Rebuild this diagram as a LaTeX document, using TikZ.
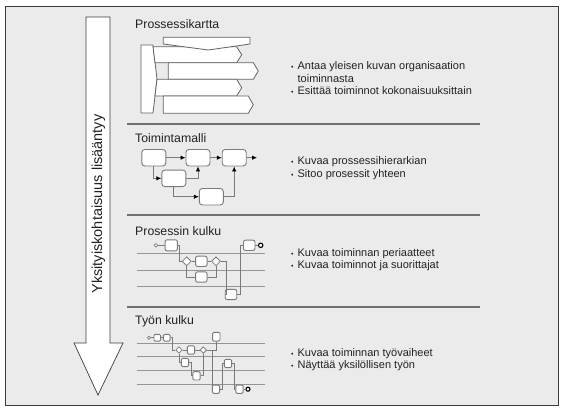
\documentclass[tikz,border=0pt]{standalone}
\usepackage{fontspec}
\setmainfont{Liberation Sans}
\usetikzlibrary{arrows.meta,shapes.geometric}
\definecolor{panel-gray}{HTML}{EBEBEB}
\definecolor{frame-gray}{HTML}{3C3C3C}
\definecolor{rule-gray}{HTML}{707070}
\definecolor{flow-gray}{HTML}{7A7A7A}
\definecolor{text-gray}{HTML}{222222}
\tikzset{
    step-box/.style = {draw=flow-gray, fill=white, line width=0.9pt, rectangle, rounded corners=2pt, inner sep=0pt},
    big-step/.style = {step-box, minimum width=24pt, minimum height=16.5pt, rounded corners=3pt},
    mid-step/.style = {step-box, minimum width=11.5pt, minimum height=10.3pt},
    small-step/.style = {step-box, minimum width=7.3pt, minimum height=8.3pt, rounded corners=1.2pt},
    gate-diamond/.style = {draw=flow-gray, fill=white, line width=0.8pt, diamond, inner sep=0pt, minimum size=9pt},
    start-dot/.style = {draw=flow-gray, fill=white, line width=0.7pt, circle, inner sep=0pt, minimum size=3.6pt},
    end-dot/.style = {draw=black, fill=white, line width=1.1pt, circle, inner sep=0pt, minimum size=4.4pt},
    flow-line/.style = {draw=flow-gray, line width=0.8pt},
    flow-arrow/.style = {flow-line, -{Latex[length=5pt,width=4.5pt,black]}},
    lane-line/.style = {draw=flow-gray!80, line width=0.6pt},
    map-arrow/.style = {draw=frame-gray!80, fill=white, line width=0.8pt, line join=round},
    section-title/.style = {anchor=base west, inner sep=0pt, text=text-gray, font=\fontsize{12.3}{14}\selectfont},
    section-text/.style = {anchor=west, inner sep=0pt, text=text-gray, font=\fontsize{11}{12.8}\selectfont},
}
\newcommand{\dotitem}{{\scriptsize\textbullet}}

\begin{document}
\begin{tikzpicture}[x=1pt, y=-1pt]
\useasboundingbox (0,0) rectangle (568,413);
\fill[white] (0,0) rectangle (568,413);
\draw[draw=frame-gray, fill=panel-gray, line width=0.9pt] (5,6) rectangle (558,405);

% the big arrow on the left
\draw[draw=frame-gray, fill=white, line width=0.7pt, line join=miter]
    (86,17) -- (110,17) -- (110,343) -- (123,343) -- (98,395) -- (74,343) -- (86,343) -- cycle;
\node[rotate=90, inner sep=0pt, text=text-gray, font=\fontsize{14.5}{16}\selectfont] (detail-label) at (98.5,204) {Yksityiskohtaisuus lisääntyy};

% separators
\foreach \y in {124,215,307}
    \draw[rule-gray, line width=1.3pt] (127,\y) -- (480,\y);

% section 1: prosessikartta
\node[section-title] (map-title) at (135,28.3) {Prossessikartta};
\draw[map-arrow] (141,45) -- (153,45) -- (157,79) -- (153,113) -- (141,113) -- cycle;
\draw[map-arrow] (153,46.7) -- (236.7,46.7) -- (241.7,54.7) -- (236.7,62.7) -- (155,62.7) -- cycle;
\draw[map-arrow] (168.3,62.7) -- (253.3,62.7) -- (258.3,71) -- (253.3,79.3) -- (168.3,79.3) -- cycle;
\draw[map-arrow] (157,79.3) -- (236.7,79.3) -- (241.7,87.7) -- (236.7,96) -- (155,96) -- cycle;
\draw[map-arrow] (163.3,96) -- (248.3,96) -- (253.3,104.7) -- (248.3,113.3) -- (163.3,113.3) -- cycle;
\draw[map-arrow] (163.3,37.3) -- (250,37.3) -- (250,44) -- (208.3,50) -- (163.3,44) -- cycle;
\node[section-text] (map-text) at (291,79.5) {\begin{tabular}{@{}l@{\hspace{4pt}}l@{}}
    \dotitem & Antaa yleisen kuvan organisaation\\
    & toiminnasta\\
    \dotitem & Esittää toiminnot kokonaisuuksittain
\end{tabular}};

% section 2: toimintamalli
\node[section-title] (model-title) at (135,142.7) {Toimintamalli};
\node[big-step] (model-a) at (153.8,157.7) {};
\node[big-step] (model-b) at (198,157.7) {};
\node[big-step] (model-c) at (234.2,157.7) {};
\node[big-step] (model-d) at (173.8,178.3) {};
\node[big-step] (model-e) at (211.3,196.7) {};
\coordinate (model-out) at (257,157.7);
\draw[flow-arrow] (model-a) -- (model-b);
\draw[flow-arrow] (model-b) -- (model-c);
\draw[flow-arrow] (model-c) -- (model-out);
\draw[flow-arrow] (model-a.south) |- (model-d.west);
\draw[flow-arrow] (model-d.east) -| (model-b.south);
\draw[flow-arrow] (model-d.south) |- (model-e.west);
\draw[flow-arrow] (model-e.east) -| (model-c.south);
\node[section-text] (model-text) at (291,168.8) {\begin{tabular}{@{}l@{\hspace{4pt}}l@{}}
    \dotitem & Kuvaa prossessihierarkian\\
    \dotitem & Sitoo prosessit yhteen
\end{tabular}};

% section 3: prosessin kulku
\node[section-title] (flow-title) at (135,235.7) {Prosessin kulku};
\foreach \y in {253.7,270.3,286}
    \draw[lane-line] (136.7,\y) -- (265,\y);
\node[start-dot] (flow-start) at (156,245.3) {};
\node[mid-step, minimum width=12.3pt, minimum height=11pt] (flow-p1) at (171.2,245.3) {};
\node[gate-diamond] (flow-d1) at (186.7,261.3) {};
\node[mid-step] (flow-p2) at (201.3,261.3) {};
\node[gate-diamond] (flow-d2) at (216,261.3) {};
\node[mid-step] (flow-p3) at (201.3,277) {};
\node[mid-step] (flow-p4) at (231,294.5) {};
\node[mid-step] (flow-p5) at (249.2,245.3) {};
\node[end-dot] (flow-end) at (260.7,245.3) {};
\draw[flow-line] (flow-start) -- (flow-p1);
\draw[flow-line] (flow-p1.east) -- ++(2,0) |- (flow-d1.west);
\draw[flow-line] (flow-d1) -- (flow-p2);
\draw[flow-line] (flow-p2) -- (flow-d2);
\draw[flow-line] (flow-d1.south) |- (flow-p3.west);
\draw[flow-line] (flow-p3.east) -| (flow-d2.south);
\draw[flow-line] (flow-d2.east) -- ++(5.5,0) |- (flow-p4.west);
\draw[flow-line] (flow-p4.east) -- ++(3.5,0) |- (flow-p5.west);
\draw[flow-line] (flow-p5) -- (flow-end);
\node[section-text] (flow-text) at (291,260) {\begin{tabular}{@{}l@{\hspace{4pt}}l@{}}
    \dotitem & Kuvaa toiminnan periaatteet\\
    \dotitem & Kuvaa toiminnot ja suorittajat
\end{tabular}};

% section 4: tyon kulku
\node[section-title] (work-title) at (135,324.3) {Työn kulku};
\foreach \y in {343.3,356.7,370,384.3}
    \draw[lane-line] (136.7,\y) -- (265,\y);
\node[start-dot, minimum size=3.2pt] (work-start) at (149,337.7) {};
\node[small-step, minimum width=6.7pt, minimum height=6.7pt] (work-a) at (157.3,337.7) {};
\node[small-step, minimum width=6.7pt, minimum height=6.7pt] (work-b) at (166.7,337.7) {};
\node[gate-diamond, minimum size=6.6pt] (work-d1) at (179,350) {};
\node[small-step] (work-c) at (191,350) {};
\node[gate-diamond, minimum size=6.6pt] (work-d2) at (203.3,350) {};
\node[small-step, minimum height=8.7pt] (work-e) at (216.3,336.7) {};
\node[small-step] (work-f) at (185,362.5) {};
\node[small-step] (work-g) at (196.5,375.8) {};
\node[small-step] (work-h) at (216,389.2) {};
\node[small-step] (work-i) at (228,363.5) {};
\node[small-step] (work-j) at (239.5,389.2) {};
\node[end-dot, minimum size=4pt] (work-end) at (248,389.2) {};
\draw[flow-line] (work-start) -- (work-a);
\draw[flow-line] (work-a) -- (work-b);
\draw[flow-line] (work-b.east) -- ++(2,0) |- (work-d1.west);
\draw[flow-line] (work-d1) -- (work-c);
\draw[flow-line] (work-c) -- (work-d2);
\draw[flow-line] (work-d2.east) -| (work-e.south);
\draw[flow-line] (work-d2.east) -- ++(5.5,0) |- (work-h.west);
\draw[flow-line] (work-d1.south) |- (work-f.west);
\draw[flow-line] (work-f.east) -- ++(2.5,0) |- (work-g.west);
\draw[flow-line] (work-g.east) -| (work-d2.south);
\draw[flow-line] (work-h.east) -- ++(2.5,0) |- (work-i.west);
\draw[flow-line] (work-i.east) -- ++(2.3,0) |- (work-j.west);
\draw[flow-line] (work-j) -- (work-end);
\node[section-text] (work-text) at (291,360) {\begin{tabular}{@{}l@{\hspace{4pt}}l@{}}
    \dotitem & Kuvaa toiminnan työvaiheet\\
    \dotitem & Näyttää yksilöllisen työn
\end{tabular}};
\end{tikzpicture}
\end{document}
